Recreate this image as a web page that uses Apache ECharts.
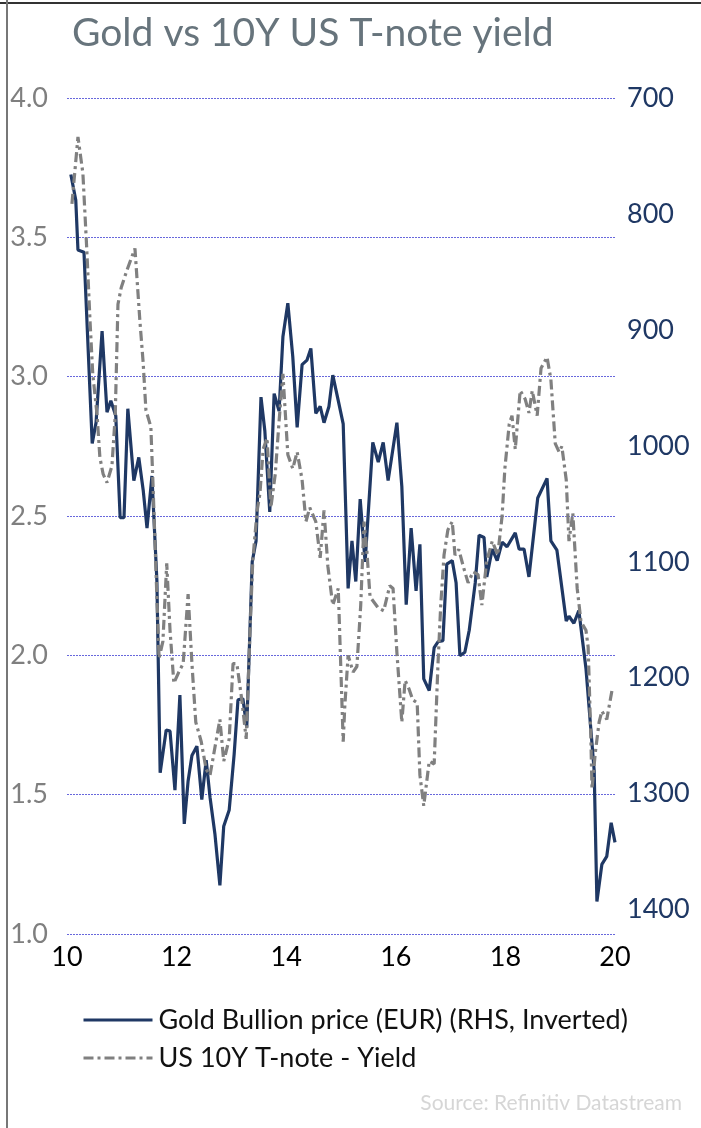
<!DOCTYPE html>
<html>
<head>
<meta charset="utf-8">
<script src="https://cdn.jsdelivr.net/npm/echarts@6/dist/echarts.min.js"></script>
<style>
  html, body { margin: 0; padding: 0; background: #fff; }
  #chart { width: 701px; height: 1128px; }
</style>
</head>
<body>
<div id="chart"></div>
<script>
// Gold bullion price in EUR (right axis, inverted), by year (20xx as decimal)
const goldDates = [10.07,10.16,10.20,10.31,10.46,10.53,10.64,10.73,10.80,10.89,10.97,11.04,11.11,11.22,11.31,11.39,11.46,11.55,11.64,11.70,11.81,11.88,11.97,12.06,12.14,12.21,12.28,12.37,12.46,12.54,12.61,12.70,12.79,12.86,12.96,13.05,13.12,13.21,13.28,13.38,13.45,13.54,13.61,13.70,13.78,13.87,13.94,14.03,14.12,14.20,14.29,14.38,14.45,14.54,14.62,14.69,14.78,14.85,14.95,15.04,15.13,15.20,15.27,15.35,15.44,15.58,15.68,15.77,15.86,16.02,16.11,16.19,16.28,16.37,16.44,16.51,16.61,16.70,16.77,16.86,16.93,17.03,17.10,17.17,17.26,17.34,17.45,17.52,17.61,17.66,17.76,17.85,17.94,18.03,18.18,18.25,18.34,18.43,18.59,18.76,18.83,18.94,19.11,19.16,19.25,19.34,19.47,19.56,19.62,19.67,19.76,19.85,19.93,20.00];
const goldPrice = [766,788,831,833,998,980,901,971,961,974,1062,1062,968,1030,1010,1038,1071,1026,1116,1282,1245,1246,1297,1215,1326,1289,1267,1259,1305,1271,1303,1335,1379,1328,1314,1266,1219,1218,1243,1100,1082,958,987,1057,955,970,906,877,923,984,930,926,916,972,966,980,966,939,961,981,1123,1082,1117,1046,1100,997,1014,997,1030,980,1035,1137,1071,1125,1085,1201,1211,1174,1169,1168,1102,1099,1118,1181,1178,1159,1118,1077,1079,1113,1089,1099,1083,1087,1075,1089,1089,1113,1045,1028,1082,1090,1151,1147,1153,1142,1192,1245,1280,1393,1361,1354,1325,1342];

// US 10Y T-note yield in % (left axis)
const yieldDates = [10.09,10.20,10.29,10.36,10.42,10.47,10.55,10.60,10.66,10.73,10.82,10.88,10.93,10.99,11.09,11.24,11.33,11.39,11.44,11.53,11.57,11.64,11.68,11.75,11.82,11.88,11.95,12.04,12.12,12.21,12.28,12.35,12.45,12.54,12.61,12.70,12.79,12.86,12.96,13.03,13.10,13.19,13.27,13.34,13.39,13.47,13.52,13.58,13.65,13.72,13.80,13.87,13.94,14.03,14.12,14.20,14.29,14.36,14.43,14.54,14.62,14.69,14.76,14.85,14.95,15.04,15.07,15.13,15.22,15.29,15.36,15.42,15.47,15.53,15.68,15.78,15.89,15.95,16.02,16.11,16.17,16.24,16.31,16.39,16.44,16.51,16.61,16.70,16.77,16.82,16.88,16.95,17.03,17.08,17.15,17.23,17.32,17.41,17.50,17.57,17.66,17.76,17.86,17.94,17.99,18.07,18.12,18.18,18.27,18.36,18.43,18.49,18.58,18.65,18.76,18.83,18.91,18.98,19.03,19.11,19.16,19.23,19.31,19.38,19.47,19.51,19.56,19.58,19.64,19.71,19.76,19.85,19.95];
const yieldPct = [3.62,3.86,3.73,3.46,3.20,3.01,2.86,2.71,2.65,2.62,2.68,2.86,3.26,3.32,3.38,3.46,3.20,3.05,2.88,2.82,2.61,2.21,1.99,2.05,2.33,2.09,1.90,1.94,1.97,2.22,1.97,1.76,1.69,1.59,1.57,1.67,1.77,1.62,1.70,1.97,1.97,1.84,1.70,2.09,2.34,2.52,2.58,2.74,2.78,2.53,2.65,2.84,3.01,2.72,2.67,2.73,2.63,2.48,2.53,2.48,2.35,2.52,2.32,2.18,2.24,1.69,1.82,2.00,1.94,1.96,2.18,2.48,2.38,2.21,2.17,2.16,2.25,2.24,2.01,1.76,1.91,1.88,1.84,1.83,1.57,1.46,1.62,1.61,1.97,2.18,2.36,2.45,2.48,2.36,2.38,2.32,2.26,2.30,2.29,2.18,2.34,2.41,2.36,2.50,2.67,2.83,2.86,2.74,2.95,2.92,2.87,2.95,2.86,3.03,3.07,2.99,2.76,2.73,2.75,2.63,2.41,2.51,2.24,2.12,2.09,2.03,1.70,1.52,1.65,1.76,1.80,1.77,1.88];

// Axis tick settings
const xTicks = { min: 10, max: 20, step: 2 };
const yieldTicks = { min: 1.0, max: 4.0, step: 0.5 };
const goldTicks = { min: 700, max: 1421, step: 100 };

const FONT = 'Lato, "Open Sans", sans-serif';
const NAVY = '#1f3864';
const GREY = '#808080';

const chart = echarts.init(document.getElementById('chart'), null, { renderer: 'canvas' });

chart.setOption({
  animation: false,
  backgroundColor: '#ffffff',
  title: {
    text: 'Gold vs 10Y US T-note yield',
    left: 67,
    top: 9,
    textStyle: { fontFamily: FONT, fontSize: 39, fontWeight: 'normal', color: '#67747c' }
  },
  grid: { left: 67, right: 86, top: 98, bottom: 194, containLabel: false },
  legend: {
    orient: 'vertical',
    left: 77,
    top: 1000,
    itemWidth: 69,
    itemHeight: 16,
    itemGap: 8,
    // line-only legend keys: hide the marker drawn in the middle of each key
    itemStyle: { opacity: 0 },
    lineStyle: { width: 3 },
    data: ['Gold Bullion price (EUR) (RHS, Inverted)', 'US 10Y T-note - Yield'],
    textStyle: { fontFamily: FONT, fontSize: 27, color: '#111', lineHeight: 30, padding: [0, 0, 0, 1] }
  },
  xAxis: {
    type: 'value',
    min: xTicks.min,
    max: xTicks.max,
    interval: xTicks.step,
    axisLine: { show: false },
    axisTick: { show: false },
    splitLine: { show: false },
    axisLabel: { fontFamily: FONT, fontSize: 27, color: '#000', margin: 10 }
  },
  yAxis: [
    {
      type: 'value',
      position: 'left',
      min: yieldTicks.min,
      max: yieldTicks.max,
      interval: yieldTicks.step,
      axisLine: { show: false },
      axisTick: { show: false },
      axisLabel: {
        fontFamily: FONT, fontSize: 27, color: '#7f7f7f', margin: 19,
        formatter: v => v.toFixed(1)
      },
      splitLine: { show: true, lineStyle: { color: '#6868dc', type: [2, 1], width: 1 } }
    },
    {
      type: 'value',
      position: 'right',
      inverse: true,
      min: goldTicks.min,
      max: goldTicks.max,
      interval: goldTicks.step,
      axisLine: { show: false },
      axisTick: { show: false },
      splitLine: { show: false },
      axisLabel: {
        fontFamily: FONT, fontSize: 27, color: NAVY, margin: 12,
        formatter: v => (v % 100 === 0 ? String(v) : '')
      }
    }
  ],
  series: [
    {
      name: 'Gold Bullion price (EUR) (RHS, Inverted)',
      type: 'line',
      yAxisIndex: 1,
      symbol: 'none',
      data: goldDates.map((d, i) => [d, goldPrice[i]]),
      lineStyle: { color: NAVY, width: 3.2 },
      itemStyle: { color: NAVY }
    },
    {
      name: 'US 10Y T-note - Yield',
      type: 'line',
      yAxisIndex: 0,
      symbol: 'none',
      data: yieldDates.map((d, i) => [d, yieldPct[i]]),
      lineStyle: { color: GREY, width: 3.2, type: [10, 4, 3, 4] },
      itemStyle: { color: GREY }
    }
  ],
  graphic: [
    { type: 'line', shape: { x1: 0, y1: 3, x2: 701, y2: 3 }, style: { stroke: '#333', lineWidth: 2 }, silent: true },
    { type: 'line', shape: { x1: 7, y1: 0, x2: 7, y2: 1128 }, style: { stroke: '#777', lineWidth: 2 }, silent: true },
    {
      type: 'text',
      right: 19,
      top: 1093,
      style: { text: 'Source: Refinitiv Datastream', fontFamily: FONT, fontSize: 21, fill: '#d6d6d6' },
      silent: true
    }
  ]
});
</script>
</body>
</html>
